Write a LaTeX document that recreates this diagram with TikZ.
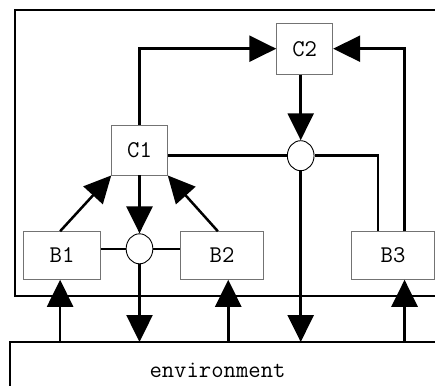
\documentclass[tikz,border=0pt]{standalone}
\usepackage{fontspec}
\usetikzlibrary{arrows.meta,shapes.geometric,calc}
\tikzset{
  label font/.style={font=\ttfamily\fontsize{24}{24}\selectfont},
  box/.style={draw=black!55, line width=0.9pt, rectangle, inner sep=0pt, label font},
  junction/.style={draw=black, line width=0.9pt, ellipse, fill=white, inner sep=0pt,
    minimum width=26.7pt, minimum height=30pt},
  wire/.style={line width=2.5pt, black},
  arr/.style={wire, -{Triangle[length=27pt, width=26pt]}},
}
\begin{document}
\begin{tikzpicture}[x=1pt, y=-1pt]
  \useasboundingbox (0,0) rectangle (435,385);
  \clip (0,0) rectangle (435,385);

  % system boundary
  \draw[line width=2.6pt] (15,10) rectangle (460,296);

  % controllers and behaviours
  \node[box, minimum width=56pt, minimum height=51pt] (C2) at (304.7,48.7) {C2};
  \node[box, minimum width=55.6pt, minimum height=50pt] (C1) at (139.5,150) {C1};
  \node[box, minimum width=77.7pt, minimum height=47.6pt] (B1) at (62,255.5) {\raisebox{-3.5pt}{B1}};
  \node[box, minimum width=82.6pt, minimum height=47.6pt] (B2) at (222,255.5) {B2};
  \node[box, minimum width=82.6pt, minimum height=47.6pt] (B3) at (393,255.5) {B3};

  % merge points
  \node[junction] (m1) at (139.5,248.8) {};
  \node[junction] (m2) at (300.7,155.7) {};

  % environment
  \node[label font] (env) at (217.5,370) {environment};
  \coordinate (envtl) at (10,342);
  \draw[line width=2pt] (envtl) rectangle (460,400);

  % taps on the behaviour boxes
  \coordinate (b1tap) at ($(B1.south west)+(37.4,0)$);
  \coordinate (b1top) at ($(B1.north west)+(37.4,0)$);
  \coordinate (b2tap) at ($(B2.south west)+(48,0)$);
  \coordinate (b2top) at ($(B2.north west)+(37.6,0)$);
  \coordinate (b3in) at ($(B3.north west)+(26.6,0)$);
  \coordinate (b3out) at ($(B3.north west)+(53.3,0)$);
  \coordinate (b3tap) at ($(B3.south west)+(53.3,0)$);

  % upper level
  \draw[arr] (C1.north) |- (C2.west);
  \draw[arr] (b3out) |- (C2.east);
  \draw[arr] (C2.south -| m2.north) -- (m2.north);
  \draw[wire] (C1.east |- m2.west) -- (m2.west);
  \draw[wire] (m2.east) -| (b3in);
  \draw[arr] (m2.south) -- (m2.south |- envtl);

  % lower level
  \draw[arr] (b1top) -- (C1.south west);
  \draw[arr] (b2top) -- (C1.south east);
  \draw[arr] (C1.south) -- (m1.north);
  \draw[wire] (B1.east |- m1.west) -- (m1.west);
  \draw[wire] (m1.east) -- (B2.west |- m1.east);
  \draw[arr] (m1.south) -- (m1.south |- envtl);

  % sensing from the environment
  \draw[arr] (b1tap |- envtl) -- (b1tap);
  \draw[arr] (b2tap |- envtl) -- (b2tap);
  \draw[arr] (b3tap |- envtl) -- (b3tap);
\end{tikzpicture}
\end{document}
